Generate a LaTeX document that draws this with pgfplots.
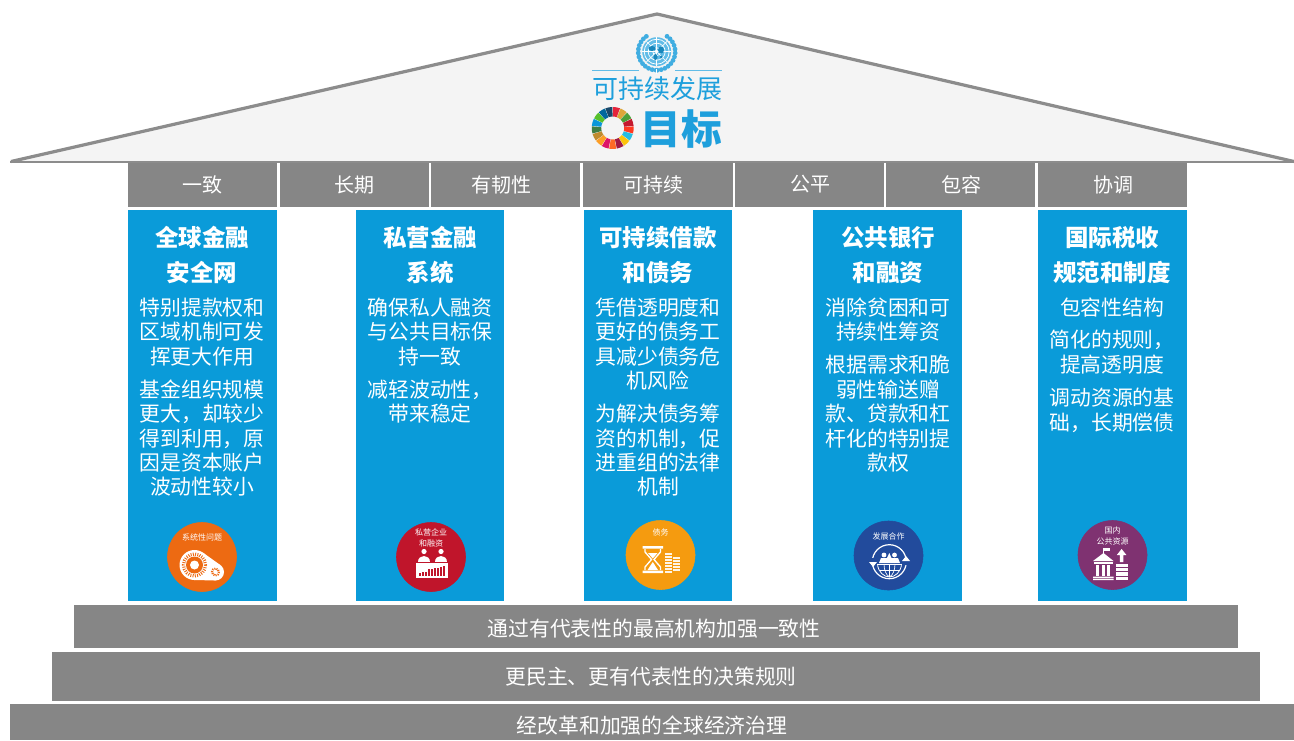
\documentclass[border=0pt]{standalone}
\usepackage{fontspec}
\setmainfont{Noto Sans CJK SC}
\usepackage{pgfplots}
\pgfplotsset{compat=1.18}
\definecolor{bargray}{HTML}{868686}
\definecolor{roofline}{HTML}{8C8C8C}
\definecolor{roofill}{HTML}{F4F4F4}
\definecolor{pillar}{HTML}{0A9BD9}
\definecolor{unblue}{HTML}{1E9FDC}
\definecolor{iorange}{HTML}{ED6A12}
\definecolor{ired}{HTML}{C0152B}
\definecolor{iamber}{HTML}{F59B0F}
\definecolor{inavy}{HTML}{224B9C}
\definecolor{ipurple}{HTML}{7F3271}
\newcommand{\rect}[5]{\addplot[fill=#5,draw=none,forget plot] coordinates {(#1,#2)(#3,#2)(#3,#4)(#1,#4)} --cycle;}
\newcommand{\disc}[3]{\addplot[only marks,mark=*,mark size=25.9pt,color=#1,forget plot] coordinates {(#2,#3)};}
\newcommand{\bodyline}[3]{\node[text=white,font=\fontsize{15.6pt}{16pt}\selectfont,anchor=center,inner sep=0pt] at (axis cs:#1,#2+0.6) {#3};}
\newcommand{\ttl}[3]{\node[text=white,font=\fontsize{17.6pt}{18pt}\selectfont\bfseries,anchor=center,inner sep=0pt] at (axis cs:#1,#2+0.4) {#3};}
\newcommand{\hdr}[2]{\node[text=white,font=\fontsize{15pt}{16pt}\selectfont,anchor=center,inner sep=0pt] at (axis cs:#1,184.5) {#2};}
\newcommand{\stp}[3]{\node[text=white,font=\fontsize{15.6pt}{16pt}\selectfont,anchor=center,inner sep=0pt] at (axis cs:#1,#2+0.7) {#3};}
\newcommand{\cpt}[3]{\node[text=white,font=\fontsize{6pt}{6pt}\selectfont,anchor=center,inner sep=0pt] at (#1,#2) {#3};}
\begin{document}
\begin{tikzpicture}[x=1pt,y=1pt]
\path[use as bounding box] (0,0) rectangle (970.5pt,555pt);
\begin{axis}[at={(0,0)},anchor=south west,scale only axis,width=970.5pt,height=555pt,
  xmin=0,xmax=1294,ymin=0,ymax=740,y dir=reverse,hide axis,clip=true,no markers]
% roof
\addplot[fill=roofill,draw=none,forget plot] coordinates {(10,162)(657,14)(1294,162)} --cycle;
\addplot[draw=roofline,line width=2.4pt,line join=miter,forget plot] coordinates {(11,161.5)(657,14)(1294,161.5)};
\addplot[draw=roofline,line width=1.6pt,forget plot] coordinates {(10,162)(1294,162)};
% header cells
\rect{128}{163}{277}{207}{bargray}
\rect{280}{163}{429}{207}{bargray}
\rect{431}{163}{580}{207}{bargray}
\rect{583}{163}{733}{207}{bargray}
\rect{735}{163}{884}{207}{bargray}
\rect{886}{163}{1035}{207}{bargray}
\rect{1038}{163}{1187}{207}{bargray}
% pillars
\rect{128}{210}{277}{601}{pillar}
\rect{356}{210}{504}{601}{pillar}
\rect{584}{210}{732}{601}{pillar}
\rect{813}{210}{962}{601}{pillar}
\rect{1038}{210}{1187}{601}{pillar}
% steps
\rect{74}{605}{1238}{648}{bargray}
\rect{52}{652}{1260}{701}{bargray}
\rect{10}{704}{1294}{740}{bargray}
% circles
\disc{iorange}{202}{557}
\disc{ired}{431}{557}
\disc{iamber}{660.5}{555}
\disc{inavy}{888.5}{555.5}
\disc{ipurple}{1112.5}{555}
% roof title
\node[text=unblue,font=\fontsize{19.5pt}{20pt}\selectfont,inner sep=0pt] at (axis cs:657,89) {可持续发展};
\node[text=unblue,font=\fontsize{30.5pt}{31pt}\selectfont\bfseries,inner sep=0pt] at (axis cs:681.5,129) {目标};
% headers
\hdr{202}{一致}\hdr{354}{长期}\hdr{501}{有韧性}\hdr{653}{可持续}\hdr{810}{公平}\hdr{961}{包容}\hdr{1113}{协调}
% pillar 1
\ttl{202}{237}{全球金融}\ttl{202}{272}{安全网}
\bodyline{202}{307}{特别提款权和}\bodyline{202}{331}{区域机制可发}\bodyline{202}{356}{挥更大作用}
\bodyline{202}{389}{基金组织规模}\bodyline{202}{413}{更大，却较少}\bodyline{202}{438}{得到利用，原}\bodyline{202}{462}{因是资本账户}\bodyline{202}{486}{波动性较小}
% pillar 2
\ttl{430}{237}{私营金融}\ttl{430}{272}{系统}
\bodyline{430}{307}{确保私人融资}\bodyline{430}{331}{与公共目标保}\bodyline{430}{356}{持一致}
\bodyline{430}{389}{减轻波动性，}\bodyline{430}{413}{带来稳定}
% pillar 3
\ttl{658}{237}{可持续借款}\ttl{658}{272}{和债务}
\bodyline{658}{307}{凭借透明度和}\bodyline{658}{331}{更好的债务工}\bodyline{658}{356}{具减少债务危}\bodyline{658}{380}{机风险}
\bodyline{658}{413}{为解决债务筹}\bodyline{658}{438}{资的机制，促}\bodyline{658}{462}{进重组的法律}\bodyline{658}{486}{机制}
% pillar 4
\ttl{888}{237}{公共银行}\ttl{888}{272}{和融资}
\bodyline{888}{307}{消除贫困和可}\bodyline{888}{331}{持续性筹资}
\bodyline{888}{364}{根据需求和脆}\bodyline{888}{389}{弱性输送赠}\bodyline{888}{413}{款、贷款和杠}\bodyline{888}{438}{杆化的特别提}\bodyline{888}{462}{款权}
% pillar 5
\ttl{1112}{237}{国际税收}\ttl{1112}{272}{规范和制度}
\bodyline{1112}{307}{包容性结构}
\bodyline{1112}{339}{简化的规则，}\bodyline{1112}{364}{提高透明度}
\bodyline{1112}{397}{调动资源的基}\bodyline{1112}{422}{础，长期偿债}
% steps text
\stp{654}{628}{通过有代表性的最高机构加强一致性}
\stp{651}{676}{更民主、更有代表性的决策规则}
\stp{652}{725}{经改革和加强的全球经济治理}
\end{axis}
% decorative emblems, in reference pixel coordinates
\begin{scope}[shift={(0,555pt)},x=0.75pt,y=-0.75pt]
% icon captions
\cpt{202}{537}{系统性问题}
\cpt{431}{532}{私营企业}\cpt{431}{543}{和融资}
\cpt{660.5}{532}{债务}
\cpt{888.5}{536}{发展合作}
\cpt{1112.5}{530}{国内}\cpt{1112.5}{541}{公共资源}
% UN emblem
\draw[unblue!70,line width=0.9pt] (592,70.5)--(639,70.5) (675,70.5)--(722,70.5);
\fill[unblue!70] (656.7,51.7) circle (14.5);
\foreach \r in {4,8.5,12.5}{\draw[white,line width=0.55pt] (656.7,51.7) circle (\r);}
\foreach \a in {0,45,...,315}{\draw[white,line width=0.5pt] (656.7,51.7) -- ++(\a:14.5);}
\fill[unblue!85!black] (652,48.5) ellipse (3.5 and 2.5) (661,50) ellipse (3 and 3.5) (655.5,57) ellipse (2 and 3) (661,57) ellipse (1.5 and 1.5);
\foreach \a in {-88,-76,...,56}{
  \pgfmathsetmacro\ax{656.7+18.5*cos(\a)}
  \pgfmathsetmacro\ay{51.7-18.5*sin(\a)}
  \pgfmathsetmacro\bx{656.7-18.5*cos(\a)}
  \fill[unblue!85] (\ax,\ay) circle (2.4);
  \fill[unblue!85] (\bx,\ay) circle (2.4);
}
\draw[white,line width=0.7pt] (656.7,69) -- (656.7,74);
% SDG wheel
\begin{scope}[shift={(612.7,128)}]
\foreach[count=\i from 0] \c in {E5243B,DDA63A,4C9F38,C5192D,FF3A21,26BDE2,FCC30B,A21942,FD6925,DD1367,FD9D24,BF8B2E,3F7E44,0A97D9,56C02B,00689D,19486A}{
  \definecolor{w}{HTML}{\c}
  \pgfmathsetmacro\aa{-90+\i*360/17+0.8}
  \pgfmathsetmacro\bb{-90+(\i+1)*360/17-0.8}
  \pgfmathsetmacro\mm{(\aa+\bb)/2}
  \fill[w] (\aa:21) -- (\mm:21) -- (\bb:21) -- (\bb:11.5) -- (\mm:11.5) -- (\aa:11.5) -- cycle;
}
\end{scope}
% Icon 1: gears
\fill[white] (194.5,565) circle (15) (215.5,572) circle (8.5);
\fill[white] (194.2,580)--(215.3,580.5)--(220.4,565.1)--(203.2,552.8)--cycle;
\draw[iorange,line width=2.4pt,dash pattern=on 0.7pt off 1.0pt] (194.5,565) circle (11);
\fill[iorange] (194.5,565) circle (8.5);
\fill[white] (194.5,565) circle (4.5);
\draw[iorange,line width=1.6pt,dash pattern=on 0.8pt off 0.8pt] (215.5,572) circle (3.5);
% Icon 2: handshake over desk
\fill[white] (416,563) rectangle (448,578);
\foreach \x/\h in {419/3,422/4,425/4,428/7,431/7,434/8,437/8,440/9,443/10}{\fill[ired] (\x,575.5) rectangle ++(2,-\h);}
\fill[white] (424,551.5) circle (2.6) (441,551.5) circle (2.6);
\fill[white] (418,561.5) .. controls (418,554) and (430,554) .. (430,561.5) -- cycle;
\fill[white] (435,561.5) .. controls (435,554) and (447,554) .. (447,561.5) -- cycle;
% Icon 3: hourglass and coins
\fill[white] (642.5,546) rectangle (663,548.5) (642.5,570.5) rectangle (663,573);
\draw[white,line width=1pt] (645,549)--(645,552)--(651.5,559.5)--(645,567)--(645,570);
\draw[white,line width=1pt] (660.5,549)--(660.5,552)--(654,559.5)--(660.5,567)--(660.5,570);
\fill[white] (648,553) -- (657.5,553) -- (652.8,558.5) -- cycle;
\fill[white] (652.8,562) -- (658,570) -- (647.5,570) -- cycle;
\foreach \y in {553,556,...,571}{\fill[white,opacity=.9] (665,\y) rectangle (672,\y+2.2);}
\foreach \y in {557,560,...,571}{\fill[white,opacity=.9] (673,\y) rectangle (680,\y+2.2);}
% Icon 4: globe, arrows, people
\draw[white,line width=0.9pt] (889.3,561.7) circle (17);
\fill[inavy] (869,558) rectangle (876,565) (903,558) rectangle (910,565);
\fill[white] (869,562) -- (877,562) -- (873,567) -- cycle;
\fill[white] (902,561) -- (910,561) -- (906,556) -- cycle;
\draw[white,line width=0.6pt] (878,564)--(901,564) (889.5,564)--(889.5,577) (880,570)--(899,570);
\draw[white,line width=0.6pt] (877.5,564) .. controls (878,572) and (884,577) .. (889.5,577) .. controls (895,577) and (901,572) .. (901.5,564);
\draw[white,line width=0.5pt] (884,564) .. controls (884,570) and (886,575) .. (889.5,577) .. controls (893,575) and (895,570) .. (895,564);
\fill[white] (884,555) circle (2.4) (894.5,555) circle (2.4);
\fill[white] (879,563) -- (881,558) -- (887,558) -- (889.3,553) -- (891.5,558) -- (898,558) -- (900,563) -- cycle;
% Icon 5: bank, coins, arrow
\fill[white] (1103.5,553) -- (1113.5,561) -- (1093,561) -- cycle;
\draw[white,line width=0.6pt] (1103.5,553)--(1103.5,548);
\fill[white] (1104,547.5) rectangle (1109.5,551);
\fill[white] (1094,562) rectangle (1113,564);
\foreach \x in {1096,1101.5,1107}{\fill[white] (\x,565) rectangle (\x+3,575.5);}
\fill[white] (1093,576.5) rectangle (1113.5,578) (1093,578.8) rectangle (1113.5,580);
\foreach \y in {564,568.2,572.4,576.6}{\fill[white] (1116,\y) rectangle (1128,\y+3.2);}
\fill[white] (1119.8,562) rectangle (1123.4,554) (1116.8,555) -- (1121.6,549) -- (1126.4,555) -- cycle;
\end{scope}
\end{tikzpicture}
\end{document}
